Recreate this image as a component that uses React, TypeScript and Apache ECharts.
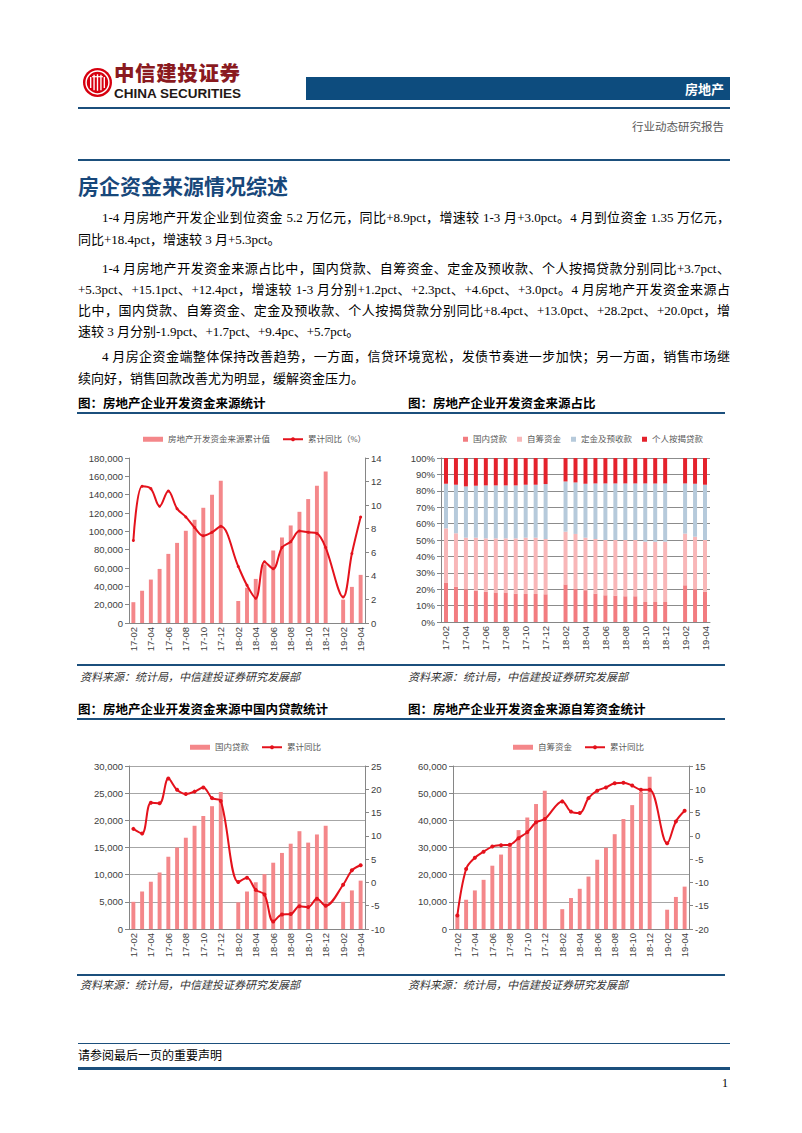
import React, { useEffect, useRef } from "react";
import * as echarts from "echarts";

const months = [
  "17-02", "17-03", "17-04", "17-05", "17-06", "17-07", "17-08", "17-09", "17-10", "17-11", "17-12",
  "18-01", "18-02", "18-03", "18-04", "18-05", "18-06", "18-07", "18-08", "18-09", "18-10", "18-11", "18-12",
  "19-01", "19-02", "19-03", "19-04",
];

// 图1 房地产开发资金来源累计值（亿元）与累计同比（%）
const fundTotal = [22700, 35300, 47400, 59000, 75400, 87400, 100600, 112600, 125700, 139900, 155200, null,
  24000, 38500, 48100, 64000, 79100, 93300, 106400, 121300, 135200, 149800, 165400, null, 25500, 39400, 52500];
const fundYoY = [7.0, 11.6, 11.4, 9.9, 11.2, 9.7, 9.0, 8.1, 7.4, 7.7, 8.2, null,
  4.8, 3.2, 2.1, 5.2, 4.6, 6.4, 6.9, 7.8, 7.7, 7.6, 6.4, null, 2.2, 5.9, 9.0];

// 图2 资金来源占比（%）
const shareDomestic = [24.1, 21.4, 20.0, 19.0, 18.4, 18.0, 18.0, 17.3, 17.1, 17.1, 16.9, null,
  22.9, 20.4, 19.4, 17.3, 16.3, 16.1, 15.7, 15.7, 12.2, 12.2, 12.2, null, 22.4, 20.0, 18.4];
const shareSelf = [33.0, 32.7, 31.4, 32.4, 32.6, 33.0, 33.0, 33.7, 34.3, 34.3, 33.7, null,
  32.2, 33.3, 32.0, 33.3, 33.7, 33.9, 34.3, 34.3, 36.8, 36.8, 36.8, null, 31.5, 32.0, 31.6];
const shareDeposit = [27.2, 29.6, 31.3, 31.7, 32.3, 32.3, 32.3, 32.3, 32.3, 32.3, 33.5, null,
  30.6, 31.4, 32.9, 33.9, 34.5, 34.5, 34.5, 34.5, 35.5, 35.5, 35.5, null, 30.6, 32.3, 33.7];
const shareMortgage = [15.7, 16.3, 17.3, 16.9, 16.7, 16.7, 16.7, 16.7, 16.3, 16.3, 15.9, null,
  14.3, 14.9, 15.7, 15.5, 15.5, 15.5, 15.5, 15.5, 15.5, 15.5, 15.5, null, 15.5, 15.7, 16.3];

// 图3 国内贷款
const domesticLoans = [5000, 6900, 8700, 10400, 13300, 15000, 16800, 19000, 20800, 22600, 25200, null,
  4900, 6900, 8600, 10100, 12200, 14000, 15700, 18000, 15900, 17400, 19000, null, 5000, 7100, 8900];
const domesticYoY = [11.5, 10.5, 17.1, 17.0, 22.3, 19.9, 19.0, 19.5, 20.4, 18.1, 17.5, null,
  0.1, 1.0, -1.6, -2.6, -8.4, -6.9, -6.8, -5.1, -5.3, -3.5, -5.0, null, -0.5, 2.6, 3.7];

// 图4 自筹资金
const selfFunds = [5300, 10800, 14200, 18100, 23300, 27400, 31300, 36400, 41000, 46000, 50900, null,
  7300, 11400, 14800, 19300, 25500, 29900, 34900, 40500, 45600, 50500, 56000, null, 7100, 11800, 15600];
const selfYoY = [-17.1, -7.1, -4.7, -3.4, -2.3, -2.0, -1.9, -0.5, 0.8, 2.9, 3.6, null,
  7.4, 5.2, 4.9, 8.1, 9.7, 10.4, 11.3, 11.4, 10.8, 9.9, 9.9, null, -1.6, 3.1, 5.4];

const AX = "#868686";
const BAR = "#F4878A";
const LINE = "#E4121C";
const LBL = { color: "#404040", fontSize: 9.5, fontFamily: '"Liberation Sans", Arial, sans-serif' };
const LEG = { color: "#595959", fontSize: 8.5, fontFamily: '"Liberation Serif", "Noto Sans CJK SC", serif' };
const BLUE = "#1B4F7C";

const xAxisCfg = {
  type: "category",
  data: months,
  axisLine: { lineStyle: { color: AX, width: 1 } },
  axisTick: { interval: 1, length: 4, lineStyle: { color: AX } },
  axisLabel: { ...LBL, rotate: 90, interval: 1, margin: 4 },
};

function fmt(v: number) {
  return v.toLocaleString("en-US");
}

function comboOption(cfg: any) {
  return {
    animation: false,
    legend: {
      left: cfg.legendLeft,
      top: cfg.legendTop,
      itemGap: 12,
      itemWidth: 20,
      itemHeight: 5,
      textStyle: LEG,
      data: [{ name: cfg.barName, icon: "rect" }, { name: cfg.lineName }],
    },
    grid: cfg.grid,
    xAxis: xAxisCfg,
    yAxis: [
      {
        type: "value",
        min: cfg.left[0],
        max: cfg.left[1],
        interval: cfg.left[2],
        axisLine: { show: true, lineStyle: { color: AX } },
        axisTick: { show: true, length: 4, lineStyle: { color: AX } },
        splitLine: { show: cfg.split, lineStyle: { color: "#A6A6A6", width: 1 } },
        axisLabel: { ...LBL, formatter: fmt, margin: 6 },
      },
      {
        type: "value",
        position: "right",
        min: cfg.right[0],
        max: cfg.right[1],
        interval: cfg.right[2],
        axisLine: { show: true, lineStyle: { color: AX } },
        axisTick: { show: true, length: 4, lineStyle: { color: AX } },
        splitLine: { show: false },
        axisLabel: { ...LBL, margin: 6 },
      },
    ],
    series: [
      {
        name: cfg.barName,
        type: "bar",
        data: cfg.bars,
        barWidth: "45%",
        itemStyle: { color: BAR },
      },
      {
        name: cfg.lineName,
        type: "line",
        yAxisIndex: 1,
        data: cfg.line,
        smooth: 0.35,
        connectNulls: true,
        symbol: "circle",
        symbolSize: cfg.symbolSize,
        lineStyle: { color: LINE, width: 2 },
        itemStyle: { color: LINE },
      },
    ],
  };
}

const option1 = comboOption({
  legendLeft: 68, legendTop: 10,
  barName: "房地产开发资金来源累计值", lineName: "累计同比（%）",
  grid: { left: 59, top: 38, width: 236, height: 165 },
  left: [0, 180000, 20000], right: [0, 14, 2], split: false,
  bars: fundTotal, line: fundYoY, symbolSize: 3,
});

const option3 = comboOption({
  legendLeft: 115, legendTop: 13,
  barName: "国内贷款", lineName: "累计同比",
  grid: { left: 59, top: 41, width: 236, height: 163 },
  left: [0, 30000, 5000], right: [-10, 25, 5], split: true,
  bars: domesticLoans, line: domesticYoY, symbolSize: 4,
});

const option4 = comboOption({
  legendLeft: 108, legendTop: 13,
  barName: "自筹资金", lineName: "累计同比",
  grid: { left: 53, top: 41, width: 236, height: 163 },
  left: [0, 60000, 10000], right: [-20, 15, 5], split: true,
  bars: selfFunds, line: selfYoY, symbolSize: 4,
});

const shareColors = ["#F27C80", "#F8B7B8", "#B6CADB", "#E4222C"];
const shareNames = ["国内贷款", "自筹资金", "定金及预收款", "个人按揭贷款"];
const shareData = [shareDomestic, shareSelf, shareDeposit, shareMortgage];

const option2 = {
  animation: false,
  legend: {
    left: 58,
    top: 10,
    itemGap: 10,
    itemWidth: 5,
    itemHeight: 5,
    textStyle: LEG,
    data: shareNames.map((n) => ({ name: n, icon: "rect" })),
  },
  grid: { left: 41, top: 38, width: 269, height: 164 },
  xAxis: xAxisCfg,
  yAxis: {
    type: "value",
    min: 0,
    max: 100,
    interval: 10,
    axisLine: { show: true, lineStyle: { color: AX } },
    axisTick: { show: true, length: 4, lineStyle: { color: AX } },
    splitLine: { show: true, lineStyle: { color: "#8C8C8C", width: 1 } },
    axisLabel: { ...LBL, formatter: "{value}%", margin: 6 },
  },
  series: shareNames.map((n, i) => ({
    name: n,
    type: "bar",
    stack: "share",
    data: shareData[i],
    barWidth: "40%",
    itemStyle: { color: shareColors[i] },
  })),
};

function EChart({ option, box }: { option: any; box: any }) {
  const ref = useRef<HTMLDivElement>(null);
  useEffect(() => {
    const chart = echarts.init(ref.current as HTMLDivElement, null, { renderer: "svg" });
    chart.setOption(option);
    return () => chart.dispose();
  }, []);
  return <div ref={ref} style={{ position: "absolute", ...box }} />;
}

const SERIF = '"Liberation Serif", "Noto Sans CJK SC", serif';
const SANS = '"Noto Sans CJK SC", "Liberation Sans", sans-serif';

function Line({ x, y, w, h, c }: any) {
  return <div style={{ position: "absolute", left: x, top: y, width: w, height: h, background: c }} />;
}

const paraLines = [
  { t: "1-4 月房地产开发企业到位资金 5.2 万亿元，同比+8.9pct，增速较 1-3 月+3.0pct。4 月到位资金 1.35 万亿元，", y: 218, indent: true, full: true },
  { t: "同比+18.4pct，增速较 3 月+5.3pct。", y: 240, indent: false, full: false },
  { t: "1-4 月房地产开发资金来源占比中，国内贷款、自筹资金、定金及预收款、个人按揭贷款分别同比+3.7pct、", y: 269, indent: true, full: true },
  { t: "+5.3pct、+15.1pct、+12.4pct，增速较 1-3 月分别+1.2pct、+2.3pct、+4.6pct、+3.0pct。4 月房地产开发资金来源占", y: 290, indent: false, full: true },
  { t: "比中，国内贷款、自筹资金、定金及预收款、个人按揭贷款分别同比+8.4pct、+13.0pct、+28.2pct、+20.0pct，增", y: 311, indent: false, full: true },
  { t: "速较 3 月分别-1.9pct、+1.7pct、+9.4pc、+5.7pct。", y: 332, indent: false, full: false },
  { t: "4 月房企资金端整体保持改善趋势，一方面，信贷环境宽松，发债节奏进一步加快；另一方面，销售市场继", y: 357, indent: true, full: true },
  { t: "续向好，销售回款改善尤为明显，缓解资金压力。", y: 379, indent: false, full: false },
];

export default function App() {
  return (
    <div style={{ position: "absolute", left: 0, top: 0, width: 802, height: 1133, background: "#fff", overflow: "hidden" }}>
      {/* logo */}
      <svg style={{ position: "absolute", left: 83, top: 68 }} width="29" height="29" viewBox="0 0 32 32">
        <circle cx="16" cy="16" r="16" fill="#D7000F" />
        <circle cx="16" cy="16" r="12.6" fill="none" stroke="#fff" strokeWidth="1.6" />
        <path d="M8.5 10 L8.5 22 M12.2 7.5 L12.2 24.5 M16 7 L16 25 M19.8 7.5 L19.8 24.5 M23.5 10 L23.5 22" stroke="#fff" strokeWidth="1.5" fill="none" />
        <path d="M10 9.6 L22 9.6" stroke="#fff" strokeWidth="1.3" fill="none" />
      </svg>
      <div style={{ position: "absolute", left: 114, top: 59, height: 26, fontFamily: SANS, fontWeight: 900, fontSize: 20.5, lineHeight: "26px", color: "#8A1A1F", letterSpacing: 0.6, whiteSpace: "nowrap" }}>
        中信建投证券
      </div>
      <div style={{ position: "absolute", left: 114, top: 88, height: 12, fontFamily: '"Liberation Sans Narrow", "Liberation Sans", Arial, sans-serif', fontWeight: 700, fontSize: 13.5, lineHeight: "12px", color: "#231815", whiteSpace: "nowrap" }}>
        CHINA SECURITIES
      </div>
      <Line x={306} y={77} w={424} h={23} c="#0D4C7E" />
      <div style={{ position: "absolute", left: 640, top: 79, width: 84, textAlign: "right", fontFamily: SANS, fontWeight: 700, fontSize: 13, lineHeight: "19px", color: "#fff" }}>
        房地产
      </div>
      <Line x={78} y={107} w={652} h={1.5} c={BLUE} />
      <div style={{ position: "absolute", left: 560, top: 119, width: 164, textAlign: "right", fontFamily: SERIF, fontSize: 11.5, lineHeight: "16px", color: "#595959" }}>
        行业动态研究报告
      </div>
      <Line x={78} y={159} w={652} h={1.5} c={BLUE} />

      {/* title */}
      <div style={{ position: "absolute", left: 78, top: 171, fontFamily: SANS, fontWeight: 700, fontSize: 21, lineHeight: "28px", color: "#17477A", whiteSpace: "nowrap" }}>
        房企资金来源情况综述
      </div>

      {paraLines.map((p, i) => (
        <div
          key={i}
          style={{
            position: "absolute",
            left: p.indent ? 102 : 78,
            width: p.indent ? 628 : 652,
            top: p.y - 9,
            height: 18,
            lineHeight: "18px",
            fontFamily: SERIF,
            fontSize: 13,
            color: "#000",
            textAlign: "justify",
            textAlignLast: p.full ? "justify" : "left",
          }}
        >
          {p.t}
        </div>
      ))}

      {/* chart titles row 1 */}
      <div style={{ position: "absolute", left: 78, top: 395, fontFamily: SANS, fontWeight: 700, fontSize: 12.5, lineHeight: "16px", color: "#000", whiteSpace: "nowrap" }}>
        图：房地产企业开发资金来源统计
      </div>
      <div style={{ position: "absolute", left: 408, top: 395, fontFamily: SANS, fontWeight: 700, fontSize: 12.5, lineHeight: "16px", color: "#000", whiteSpace: "nowrap" }}>
        图：房地产企业开发资金来源占比
      </div>
      <Line x={77} y={412} w={648} h={2} c={BLUE} />

      <EChart option={option1} box={{ left: 70, top: 420, width: 330, height: 240 }} />
      <EChart option={option2} box={{ left: 400, top: 420, width: 330, height: 240 }} />

      <Line x={77} y={664} w={648} h={2} c={BLUE} />
      <div style={{ position: "absolute", left: 80, top: 670, fontFamily: SERIF, fontStyle: "italic", fontSize: 11, lineHeight: "15px", color: "#333", whiteSpace: "nowrap" }}>
        资料来源：统计局，中信建投证券研究发展部
      </div>
      <div style={{ position: "absolute", left: 408, top: 670, fontFamily: SERIF, fontStyle: "italic", fontSize: 11, lineHeight: "15px", color: "#333", whiteSpace: "nowrap" }}>
        资料来源：统计局，中信建投证券研究发展部
      </div>

      {/* chart titles row 2 */}
      <div style={{ position: "absolute", left: 78, top: 701, fontFamily: SANS, fontWeight: 700, fontSize: 12.5, lineHeight: "16px", color: "#000", whiteSpace: "nowrap" }}>
        图：房地产企业开发资金来源中国内贷款统计
      </div>
      <div style={{ position: "absolute", left: 408, top: 701, fontFamily: SANS, fontWeight: 700, fontSize: 12.5, lineHeight: "16px", color: "#000", whiteSpace: "nowrap" }}>
        图：房地产企业开发资金来源自筹资金统计
      </div>
      <Line x={77} y={718} w={648} h={2} c={BLUE} />

      <EChart option={option3} box={{ left: 70, top: 725, width: 330, height: 240 }} />
      <EChart option={option4} box={{ left: 400, top: 725, width: 330, height: 240 }} />

      <Line x={77} y={974} w={648} h={2} c={BLUE} />
      <div style={{ position: "absolute", left: 80, top: 978, fontFamily: SERIF, fontStyle: "italic", fontSize: 11, lineHeight: "15px", color: "#333", whiteSpace: "nowrap" }}>
        资料来源：统计局，中信建投证券研究发展部
      </div>
      <div style={{ position: "absolute", left: 408, top: 978, fontFamily: SERIF, fontStyle: "italic", fontSize: 11, lineHeight: "15px", color: "#333", whiteSpace: "nowrap" }}>
        资料来源：统计局，中信建投证券研究发展部
      </div>

      {/* footer */}
      <Line x={78} y={1043} w={652} h={1} c={BLUE} />
      <div style={{ position: "absolute", left: 78, top: 1048, fontFamily: SERIF, fontSize: 12, lineHeight: "16px", color: "#000", whiteSpace: "nowrap" }}>
        请参阅最后一页的重要声明
      </div>
      <Line x={78} y={1067} w={652} h={3} c={BLUE} />
      <div style={{ position: "absolute", left: 700, top: 1075, width: 28, textAlign: "right", fontFamily: SERIF, fontSize: 12, lineHeight: "16px", color: "#000" }}>
        1
      </div>
    </div>
  );
}
